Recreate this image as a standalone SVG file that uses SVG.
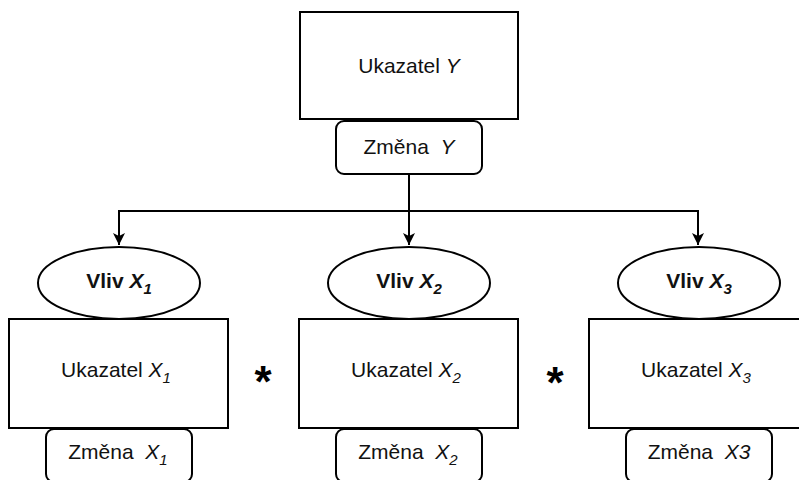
<svg xmlns="http://www.w3.org/2000/svg" width="799" height="480" viewBox="0 0 799 480">
<defs>
<style>
.box{fill:#fff;stroke:#000;stroke-width:2}
.t{font-family:"Liberation Sans",Arial,sans-serif;font-size:21px;fill:#111;text-anchor:middle}
.b{font-weight:bold}
.i{font-style:italic}
.sub{font-size:15px;font-style:italic}
.line{fill:none;stroke:#000;stroke-width:2}
.star{font-family:"Liberation Sans",Arial,sans-serif;font-size:44px;font-weight:bold;fill:#000;text-anchor:middle}
</style>
<marker id="arr" viewBox="0 0 12 12" refX="12" refY="6" markerWidth="12" markerHeight="12" markerUnits="userSpaceOnUse" orient="auto">
<path d="M0,0 L12,6 L0,12 L3,6 Z" fill="#000"/>
</marker>
</defs>
<rect width="799" height="480" fill="#fff"/>
<g id="connectors">
<path class="line" d="M409,174 V245" marker-end="url(#arr)"/>
<path class="line" d="M409,211 H119 V245" marker-end="url(#arr)"/>
<path class="line" d="M409,211 H698 V245" marker-end="url(#arr)"/>
</g>
<g id="ukazatelY">
<rect class="box" x="300" y="12" width="218" height="107"/>
<text class="t" x="409" y="73">Ukazatel <tspan class="i">Y</tspan></text>
</g>
<g id="zmenaY">
<rect class="box" x="336" y="121" width="146" height="53" rx="8"/>
<text class="t" x="409" y="154" xml:space="preserve">Změna  <tspan class="i">Y</tspan></text>
</g>
<g id="vlivX1">
<ellipse class="box" cx="119" cy="283" rx="81" ry="36"/>
<text class="t b" x="119" y="288">Vliv <tspan class="i">X</tspan><tspan class="sub" dy="6">1</tspan></text>
</g>
<g id="vlivX2">
<ellipse class="box" cx="409" cy="283" rx="81" ry="36"/>
<text class="t b" x="409" y="288">Vliv <tspan class="i">X</tspan><tspan class="sub" dy="6">2</tspan></text>
</g>
<g id="vlivX3">
<ellipse class="box" cx="699" cy="283" rx="81" ry="36"/>
<text class="t b" x="699" y="288">Vliv <tspan class="i">X</tspan><tspan class="sub" dy="6">3</tspan></text>
</g>
<g id="ukazatelX1">
<rect class="box" x="9" y="319" width="219" height="109"/>
<text class="t" x="116" y="377">Ukazatel <tspan class="i">X</tspan><tspan class="sub" dy="6">1</tspan></text>
</g>
<g id="ukazatelX2">
<rect class="box" x="299" y="319" width="219" height="109"/>
<text class="t" x="406" y="377">Ukazatel <tspan class="i">X</tspan><tspan class="sub" dy="6">2</tspan></text>
</g>
<g id="ukazatelX3">
<rect class="box" x="589" y="319" width="219" height="109"/>
<text class="t" x="696" y="377">Ukazatel <tspan class="i">X</tspan><tspan class="sub" dy="6">3</tspan></text>
</g>
<g id="zmenaX1">
<rect class="box" x="46" y="429" width="146" height="53" rx="8"/>
<text class="t" x="118" y="459" xml:space="preserve">Změna  <tspan class="i">X</tspan><tspan class="sub" dy="6">1</tspan></text>
</g>
<g id="zmenaX2">
<rect class="box" x="336" y="429" width="146" height="53" rx="8"/>
<text class="t" x="408" y="459" xml:space="preserve">Změna  <tspan class="i">X</tspan><tspan class="sub" dy="6">2</tspan></text>
</g>
<g id="zmenaX3">
<rect class="box" x="626" y="429" width="146" height="53" rx="8"/>
<text class="t" x="699" y="459" xml:space="preserve">Změna  <tspan class="i">X3</tspan></text>
</g>
<text class="star" x="263" y="397">*</text>
<text class="star" x="555" y="398">*</text>
</svg>
